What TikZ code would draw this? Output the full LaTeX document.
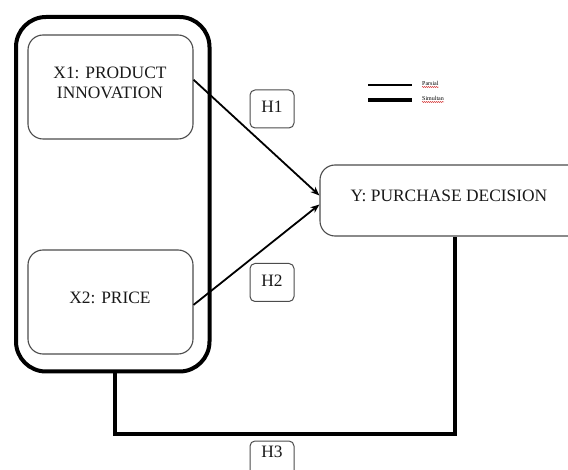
\documentclass[tikz,border=0pt]{standalone}
\usepackage{fontspec}
\setmainfont{Liberation Serif}
\usetikzlibrary{arrows.meta,decorations.pathmorphing}
\begin{document}
\begin{tikzpicture}[x=1pt,y=-1pt,
  txt/.style={font=\fontsize{17.4}{20.5}\selectfont, text=black!90},
  varbox/.style={draw=black!70, line width=1.1pt, rounded corners=15pt, minimum width=165pt, minimum height=104pt, inner sep=0pt, align=center, txt},
  hbox/.style={draw=black!70, line width=1pt, rounded corners=5pt, minimum width=44pt, minimum height=38pt, inner sep=0pt, txt},
  groupbox/.style={draw=black, line width=4pt, rounded corners=30pt, minimum width=193.5pt, minimum height=354.5pt, inner sep=0pt},
  partial/.style={draw=black, line width=1.8pt, -{Stealth[length=9pt,width=7pt]}},
  simul/.style={draw=black, line width=4pt, line join=miter},
  legtxt/.style={font=\fontsize{6}{7}\selectfont, anchor=west, inner sep=0pt},
  squiggle/.style={draw=red!80!black, line width=0.4pt, decorate, decoration={snake, amplitude=0.5pt, segment length=2pt}}
]
\useasboundingbox (0,0) rectangle (568,470);
\clip (0,0) rectangle (568,470);
\fill[white] (0,0) rectangle (568,470);

% group box
\node[groupbox] (grp) at (112.75,194.25) {};

% variable boxes
\node[varbox] (X1) at (110.5,87) {};
\node[txt, align=center, inner sep=0pt] (X1t) at (110,83) {X1: PRODUCT\\INNOVATION};
\node[varbox] (X2) at (110.5,302) {};
\node[txt, inner sep=0pt] (X2t) at (110,298) {X2: PRICE};

\node[draw=black!70, line width=1.1pt, rounded corners=15pt, minimum width=290pt, minimum height=71pt, inner sep=0pt] (Y) at (465,200.5) {};
\node[txt, inner sep=0pt] (Yt) at (449,196) {Y: PURCHASE DECISION};

% hypothesis labels
\node[hbox] (H1) at (272,109) {};
\node[txt, inner sep=0pt] (H1t) at (272,107) {H1};
\node[hbox] (H2) at (272,282.5) {};
\node[txt, inner sep=0pt] (H2t) at (272,280.5) {H2};
\node[hbox] (H3) at (272,460) {};
\node[txt, inner sep=0pt] (H3t) at (272,452) {H3};

% partial arrows
\draw[partial] (X1.5) -- ([yshift=5pt]Y.west);
\draw[partial] (X2.-2) -- ([yshift=-4pt]Y.west);

% simultaneous connector
\coordinate (c1) at (115,434);
\coordinate (c2) at (455,434);
\draw[simul] (grp.south -| c1) -- (c1) -- (c2) -- (c2 |- Y.south);

% legend
\coordinate (l1a) at (368,85);
\coordinate (l1b) at (412,85);
\coordinate (l2a) at (368,100);
\coordinate (l2b) at (412,100);
\draw[black, line width=1.8pt] (l1a) -- (l1b);
\draw[black, line width=4.5pt] (l2a) -- (l2b);
\node[legtxt] (lp) at (422,83.5) {Parsial};
\node[legtxt] (ls) at (422,98.5) {Simultan};
\draw[squiggle] ([yshift=-1.2pt]lp.south west) -- ([yshift=-1.2pt]lp.south east);
\draw[squiggle] ([yshift=-1.2pt]ls.south west) -- ([yshift=-1.2pt]ls.south east);
\end{tikzpicture}
\end{document}
